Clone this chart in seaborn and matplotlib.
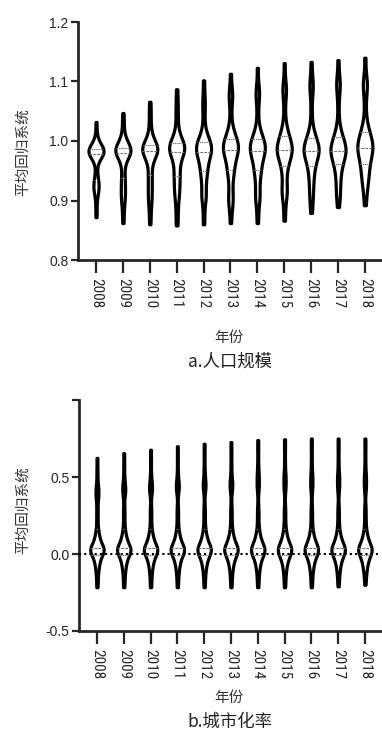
import seaborn as sns
import numpy as np
import pandas as pd
import matplotlib.pyplot as plt
from matplotlib import font_manager

years = ["2008", "2009", "2010", "2011", "2012", "2013", "2014", "2015", "2016", "2017", "2018"]

# a. 人口规模 - 各年份城市平均回归系数
pop_2008 = [0.872, 0.888, 0.905, 0.912, 0.917, 0.921, 0.924, 0.927, 0.931, 0.936, 0.942, 0.953,
            0.966, 0.970, 0.973, 0.975, 0.977, 0.978, 0.979, 0.980, 0.981, 0.982, 0.983, 0.983,
            0.984, 0.985, 0.986, 0.987, 0.988, 0.990, 0.992, 0.994, 0.997, 1.001, 1.012, 1.032]
pop_2009 = [0.862, 0.878, 0.893, 0.900, 0.906, 0.912, 0.918, 0.924, 0.930, 0.937, 0.944, 0.953,
            0.963, 0.968, 0.972, 0.975, 0.977, 0.979, 0.980, 0.981, 0.982, 0.983, 0.984, 0.985,
            0.986, 0.987, 0.988, 0.989, 0.991, 0.993, 0.995, 0.998, 1.002, 1.006, 1.018, 1.032, 1.047]
pop_2010 = [0.860, 0.876, 0.892, 0.899, 0.906, 0.913, 0.920, 0.927, 0.934, 0.941, 0.948, 0.956,
            0.964, 0.969, 0.973, 0.976, 0.978, 0.980, 0.982, 0.983, 0.984, 0.985, 0.986, 0.987,
            0.988, 0.989, 0.990, 0.991, 0.993, 0.995, 0.998, 1.001, 1.005, 1.010, 1.022, 1.036,
            1.051, 1.066]
pop_2011 = [0.858, 0.872, 0.887, 0.902, 0.908, 0.914, 0.920, 0.926, 0.932, 0.938, 0.943, 0.948,
            0.953, 0.958, 0.966, 0.971, 0.975, 0.978, 0.980, 0.982, 0.984, 0.985, 0.987, 0.988,
            0.989, 0.990, 0.992, 0.993, 0.995, 0.997, 1.000, 1.003, 1.007, 1.012, 1.024, 1.040,
            1.052, 1.068, 1.087]
pop_2012 = [0.860, 0.878, 0.900, 0.904, 0.908, 0.912, 0.922, 0.932, 0.937, 0.942, 0.947, 0.951,
            0.955, 0.959, 0.962, 0.966, 0.970, 0.974, 0.975, 0.977, 0.980, 0.982, 0.984, 0.985,
            0.986, 0.988, 0.989, 0.991, 0.992, 0.994, 0.996, 0.998, 1.000, 1.003, 1.006, 1.009,
            1.013, 1.025, 1.042, 1.058, 1.064, 1.080, 1.102]
pop_2013 = [0.862, 0.880, 0.895, 0.899, 0.903, 0.907, 0.918, 0.928, 0.938, 0.943, 0.948, 0.952,
            0.956, 0.960, 0.964, 0.968, 0.972, 0.976, 0.979, 0.981, 0.983, 0.984, 0.985, 0.987,
            0.989, 0.991, 0.992, 0.993, 0.995, 0.997, 1.000, 1.001, 1.003, 1.006, 1.010, 1.014,
            1.019, 1.028, 1.048, 1.068, 1.074, 1.080, 1.086, 1.113]
pop_2014 = [0.862, 0.880, 0.900, 0.904, 0.908, 0.912, 0.922, 0.935, 0.940, 0.945, 0.950, 0.954,
            0.958, 0.962, 0.966, 0.970, 0.974, 0.977, 0.980, 0.982, 0.983, 0.984, 0.986, 0.988,
            0.990, 0.991, 0.992, 0.994, 0.996, 0.999, 1.000, 1.002, 1.005, 1.009, 1.013, 1.018,
            1.030, 1.052, 1.072, 1.078, 1.084, 1.090, 1.123]
pop_2015 = [0.866, 0.884, 0.906, 0.910, 0.914, 0.918, 0.922, 0.934, 0.944, 0.950, 0.958, 0.962,
            0.966, 0.970, 0.973, 0.976, 0.979, 0.981, 0.982, 0.983, 0.985, 0.987, 0.989, 0.990,
            0.991, 0.993, 0.995, 0.998, 1.001, 1.004, 1.008, 1.012, 1.017, 1.022, 1.032, 1.056,
            1.078, 1.084, 1.090, 1.096, 1.131]
pop_2016 = [0.879, 0.893, 0.906, 0.914, 0.922, 0.930, 0.940, 0.945, 0.950, 0.955, 0.962, 0.966,
            0.970, 0.973, 0.976, 0.978, 0.980, 0.981, 0.982, 0.984, 0.986, 0.988, 0.989, 0.990,
            0.992, 0.994, 0.997, 1.000, 1.003, 1.007, 1.011, 1.016, 1.030, 1.058, 1.083, 1.090,
            1.097, 1.104, 1.133]
pop_2017 = [0.889, 0.902, 0.912, 0.920, 0.928, 0.936, 0.946, 0.951, 0.956, 0.961, 0.966, 0.970,
            0.973, 0.976, 0.978, 0.980, 0.982, 0.983, 0.984, 0.986, 0.988, 0.990, 0.992, 0.994,
            0.997, 1.000, 1.003, 1.007, 1.012, 1.018, 1.030, 1.060, 1.085, 1.092, 1.099, 1.106,
            1.136]
pop_2018 = [0.892, 0.908, 0.922, 0.928, 0.934, 0.940, 0.945, 0.950, 0.955, 0.960, 0.964, 0.968,
            0.972, 0.976, 0.979, 0.982, 0.984, 0.986, 0.988, 0.990, 0.992, 0.994, 0.996, 0.999,
            1.002, 1.005, 1.008, 1.012, 1.016, 1.021, 1.027, 1.042, 1.065, 1.085, 1.092, 1.099,
            1.106, 1.140]

# b. 城市化率 - 0 附近的主体部分各年份形状基本一致
urb_core = [-0.088, -0.072, -0.058, -0.046, -0.035, -0.025, -0.016, -0.008, -0.001, 0.005,
            0.010, 0.014, 0.018, 0.021, 0.024, 0.027, 0.030, 0.033, 0.036, 0.040, 0.044, 0.049,
            0.055, 0.062, 0.070, 0.079, 0.089, 0.100, 0.113, 0.128, 0.145]
urb_2008 = [-0.216, -0.175, -0.135, -0.11, 0.175, 0.22, 0.265, 0.31, 0.36, 0.38, 0.40, 0.42, 0.44, 0.49, 0.55, 0.624]
urb_2009 = [-0.216, -0.175, -0.135, -0.11, 0.175, 0.22, 0.265, 0.31, 0.38, 0.40, 0.42, 0.44, 0.46, 0.51, 0.58, 0.655]
urb_2010 = [-0.216, -0.175, -0.135, -0.11, 0.175, 0.22, 0.265, 0.31, 0.39, 0.41, 0.43, 0.45, 0.47, 0.52, 0.60, 0.677]
urb_2011 = [-0.216, -0.175, -0.135, -0.11, 0.175, 0.22, 0.265, 0.31, 0.40, 0.42, 0.44, 0.46, 0.48, 0.54, 0.62, 0.700]
urb_2012 = [-0.216, -0.175, -0.135, -0.11, 0.175, 0.22, 0.265, 0.31, 0.40, 0.43, 0.45, 0.47, 0.50, 0.56, 0.64, 0.716]
urb_2013 = [-0.216, -0.175, -0.135, -0.11, 0.175, 0.22, 0.265, 0.31, 0.40, 0.43, 0.45, 0.47, 0.50, 0.57, 0.65, 0.727]
urb_2014 = [-0.216, -0.175, -0.135, -0.11, 0.175, 0.22, 0.265, 0.31, 0.41, 0.44, 0.47, 0.50, 0.53, 0.59, 0.67, 0.740]
urb_2015 = [-0.216, -0.175, -0.135, -0.11, 0.175, 0.22, 0.265, 0.31, 0.41, 0.44, 0.47, 0.50, 0.53, 0.60, 0.68, 0.745]
urb_2016 = [-0.216, -0.175, -0.135, -0.11, 0.175, 0.22, 0.265, 0.31, 0.41, 0.44, 0.47, 0.50, 0.53, 0.60, 0.68, 0.750]
urb_2017 = [-0.210, -0.170, -0.130, -0.11, 0.175, 0.22, 0.265, 0.31, 0.41, 0.44, 0.47, 0.50, 0.53, 0.60, 0.68, 0.750]
urb_2018 = [-0.200, -0.160, -0.125, -0.10, 0.175, 0.22, 0.265, 0.31, 0.41, 0.44, 0.47, 0.50, 0.53, 0.60, 0.68, 0.750]

pop_vals = [pop_2008, pop_2009, pop_2010, pop_2011, pop_2012, pop_2013, pop_2014, pop_2015, pop_2016, pop_2017, pop_2018]
urb_vals = [urb_2008, urb_2009, urb_2010, urb_2011, urb_2012, urb_2013, urb_2014, urb_2015, urb_2016, urb_2017, urb_2018]


def to_long(vals, core=()):
    rows = []
    for y, v in zip(years, vals):
        for x in list(core) + list(v):
            rows.append((y, x))
    return pd.DataFrame(rows, columns=["year", "coef"])


df_pop = to_long(pop_vals)
df_urb = to_long(urb_vals, urb_core)

sns.set_style("ticks")
plt.rcParams['font.family'] = ['Liberation Sans', 'DejaVu Sans']
cjk = ['Noto Sans CJK SC', 'DejaVu Sans']

# 年份标签用窄体字（没有就用普通的）
installed = {f.name for f in font_manager.fontManager.ttflist}
narrow = 'Liberation Sans'
for cand in ['Liberation Sans Narrow', 'Roboto Condensed', 'DejaVu Sans Condensed']:
    if cand in installed:
        narrow = cand
        break

W, H = 382, 733
fig = plt.figure(figsize=(W / 100, H / 100), dpi=100)


def px_axes(x0, y0, x1, y1):
    return fig.add_axes([x0 / W, 1 - y1 / H, (x1 - x0) / W, (y1 - y0) / H])


ax1 = px_axes(78, 22, 381, 260)
ax2 = px_axes(79, 400, 381, 631)

vkw = dict(color="white", linecolor="black", linewidth=2.3, inner="quart",
           inner_kws=dict(color="0.45", linewidth=0.8), cut=0,
           density_norm="width", order=years)

sns.violinplot(data=df_pop, x="year", y="coef", ax=ax1, bw_adjust=0.55, width=0.56, **vkw)
sns.violinplot(data=df_urb, x="year", y="coef", ax=ax2, bw_adjust=0.35, width=0.5, **vkw)
ax2.axhline(0, color="black", linestyle=(0, (1, 1.5)), linewidth=1.5, zorder=5)

ax1.set_ylim(0.8, 1.2)
ax1.set_yticks([0.8, 0.9, 1.0, 1.1, 1.2])
ax1.set_yticklabels(["0.8", "0.9", "1.0", "1.1", "1.2"])
ax2.set_ylim(-0.5, 1.0)
ax2.set_yticks([-0.5, 0.0, 0.5, 1.0])
ax2.set_yticklabels(["-0.5", "0.0", "0.5", ""])

for ax in (ax1, ax2):
    ax.set_xlim(-0.67, 10.6)
    sns.despine(ax=ax)
    ax.spines["left"].set_linewidth(2)
    ax.spines["bottom"].set_linewidth(2)
    ax.tick_params(axis="y", length=5, width=1.6, labelsize=10, pad=2)
    ax.tick_params(axis="x", length=9, width=1.6, labelsize=11, pad=4)
    ax.set_xlabel("")
    ax.set_ylabel("")
    for lab in ax.get_xticklabels():
        lab.set_rotation(-90)
        lab.set_family(narrow)

fig.text(23 / W, 1 - 152 / H, "平均回归系统", rotation=90, ha="center", va="center",
         fontsize=10.5, family=cjk, color="#333333")
fig.text(23 / W, 1 - 510 / H, "平均回归系统", rotation=90, ha="center", va="center",
         fontsize=10.5, family=cjk, color="#333333")
fig.text(229 / W, 1 - 338 / H, "年份", ha="center", va="center", fontsize=10.5, family=cjk, color="#333333")
fig.text(230 / W, 1 - 362 / H, "a.人口规模", ha="center", va="center", fontsize=12.5, family=cjk, color="#222222")
fig.text(229 / W, 1 - 698 / H, "年份", ha="center", va="center", fontsize=10.5, family=cjk, color="#333333")
fig.text(230 / W, 1 - 722 / H, "b.城市化率", ha="center", va="center", fontsize=12.5, family=cjk, color="#222222")

plt.savefig("out.png", dpi=100)
